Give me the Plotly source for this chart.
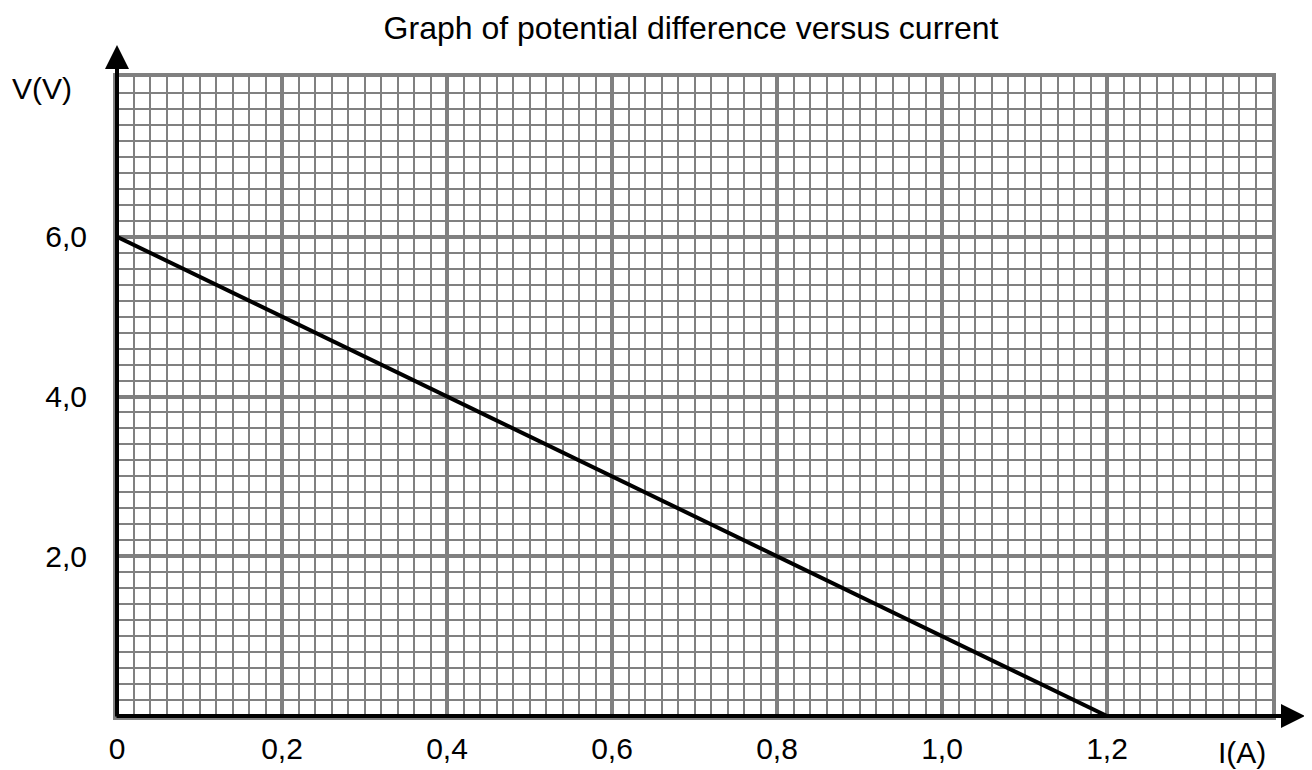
import plotly.graph_objects as go

# Data
current_A = [0.0, 1.2]
voltage_V = [6.0, 0.0]

x_tick_vals = [0, 0.2, 0.4, 0.6, 0.8, 1.0, 1.2]
x_tick_text = ["0", "0,2", "0,4", "0,6", "0,8", "1,0", "1,2"]
y_tick_vals = [2, 4, 6]
y_tick_text = ["2,0", "4,0", "6,0"]

title_text = "Graph of potential difference versus current"
x_label = "I(A)"
y_label = "V(V)"

FONT = "Liberation Sans, Arial, Helvetica, sans-serif"
FS = 30
TFS = 32
GRID = "#808080"

# page has an 8px body margin; work in reference-pixel coordinates
OFF = 8
W, H = 1312 - OFF, 770 - OFF
X0, X1 = 117, 1272      # plot area left/right (reference px)
Y0, Y1 = 77, 716        # plot area top/bottom (reference px)
L, R, T, B = X0 - OFF, W - (X1 - OFF), Y0 - OFF, H - (Y1 - OFF)
PW, PH = X1 - X0, Y1 - Y0


def px(xr):
    return (xr - X0) / PW


def py(yr):
    return (Y1 - yr) / PH


fig = go.Figure()
fig.add_trace(go.Scatter(
    x=current_A, y=voltage_V, mode="lines",
    line=dict(color="black", width=4),
    showlegend=False, hoverinfo="skip", cliponaxis=False,
))

fig.update_layout(
    width=W, height=H,
    margin=dict(l=L, r=R, t=T, b=B, autoexpand=False),
    paper_bgcolor="white", plot_bgcolor="white",
    font=dict(family=FONT, size=FS, color="black"),
    title=dict(text=title_text, x=0.497, xref="paper", xanchor="center",
               y=1 - (28 - OFF) / H, yref="container", yanchor="middle",
               font=dict(family=FONT, size=TFS, color="black")),
    showlegend=False,
)

fig.update_xaxes(
    range=[0, 1.4], tickmode="array", tickvals=x_tick_vals, ticktext=x_tick_text,
    showgrid=True, gridcolor=GRID, gridwidth=4,
    minor=dict(tick0=0, dtick=0.02, showgrid=True, gridcolor=GRID, gridwidth=2),
    zeroline=False, showline=True, mirror=True, linecolor=GRID, linewidth=4,
    ticks="", ticklabelstandoff=3, automargin=False,
    tickfont=dict(family=FONT, size=FS, color="black"),
)
fig.update_yaxes(
    range=[0, 8], tickmode="array", tickvals=y_tick_vals, ticktext=y_tick_text,
    showgrid=True, gridcolor=GRID, gridwidth=4,
    minor=dict(tick0=0, dtick=0.2, showgrid=True, gridcolor=GRID, gridwidth=2),
    zeroline=False, showline=True, mirror=True, linecolor=GRID, linewidth=4,
    ticks="", ticklabelstandoff=20, automargin=False,
    tickfont=dict(family=FONT, size=FS, color="black"),
)

# Axis arrows (black)
fig.add_annotation(x=px(1305), y=0, xref="paper", yref="paper",
                   ax=-(1305 - 115), ay=0, axref="pixel", ayref="pixel",
                   text="", showarrow=True, arrowhead=2, arrowsize=1.2, arrowwidth=4,
                   arrowcolor="black", standoff=0)
fig.add_annotation(x=0, y=py(45), xref="paper", yref="paper",
                   ax=0, ay=(716 - 45) + 2, axref="pixel", ayref="pixel",
                   text="", showarrow=True, arrowhead=2, arrowsize=1.2, arrowwidth=4,
                   arrowcolor="black", standoff=0)

# Axis labels
fig.add_annotation(x=px(1242), y=py(752), xref="paper", yref="paper",
                   text=x_label, showarrow=False, xanchor="center", yanchor="middle",
                   font=dict(family=FONT, size=FS, color="black"))
fig.add_annotation(x=px(42), y=py(88), xref="paper", yref="paper",
                   text=y_label, showarrow=False, xanchor="center", yanchor="middle",
                   font=dict(family=FONT, size=FS, color="black"))

fig.write_html("out.html")
